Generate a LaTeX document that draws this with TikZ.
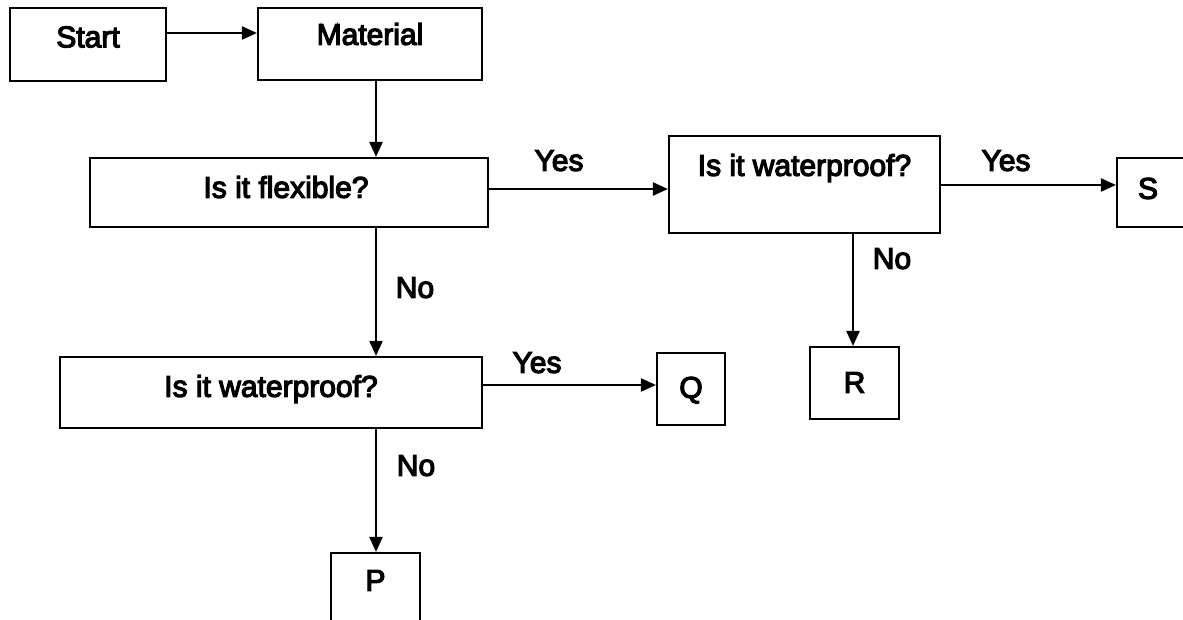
\documentclass[tikz,border=0pt]{standalone}
\usepackage{fontspec}
\setmainfont{Liberation Sans}[FakeBold=4]
\usetikzlibrary{arrows.meta,calc,fit}
\begin{document}
\begin{tikzpicture}[x=1pt,y=-1pt,
  box/.style={draw=black,line width=2.1pt,inner sep=0pt},
  lbl/.style={font=\fontsize{30}{32}\selectfont,inner sep=0pt,text height=21.6pt,text depth=0pt},
  arr/.style={draw=black,line width=2.2pt,-{Triangle[length=15pt,width=13pt]}}]
\useasboundingbox (0,0) rectangle (1183,620);
\fill[white] (0,0) rectangle (1183,620);
\begin{scope}
\clip (0,0) rectangle (1183,620);
% boxes
\node[box,fit={(10,8)(166,81)},label={[lbl,yshift=8pt]center:Start}] (start) {};
\node[box,fit={(258,8)(482,80)},label={[lbl,yshift=10pt]center:Material}] (material) {};
\node[box,fit={(90,158)(488,227)},label={[lbl,xshift=-3pt,yshift=5.5pt]center:Is it flexible?}] (flex) {};
\node[box,fit={(669,136)(940,233)},label={[lbl,yshift=19.5pt]center:Is it waterproof?}] (wpa) {};
\node[box,fit={(1117,158)(1200,227)},label={[lbl,xshift=-10.5pt,yshift=4.5pt]center:S}] (S) {};
\node[box,fit={(60,357)(482,428)},label={[lbl,yshift=6.5pt]center:Is it waterproof?}] (wpb) {};
\node[box,fit={(657,353)(725,425)},label={[lbl,yshift=2pt]center:Q}] (Q) {};
\node[box,fit={(810,347)(899,419)},label={[lbl,yshift=1pt]center:R}] (R) {};
\node[box,fit={(331,553)(420,640)},label={[lbl,yshift=16.5pt]center:P}] (P) {};
% guide coordinates
\coordinate (ya) at (0,33);
\coordinate (yb) at (0,189);
\coordinate (yc) at (0,185);
\coordinate (yd) at (0,385);
\coordinate (xa) at (376,0);
\coordinate (xb) at (853,0);
% connectors
\draw[arr] (start.east |- ya) -- (material.west |- ya);
\draw[arr] (material.south -| xa) -- (flex.north -| xa);
\draw[arr] (flex.east |- yb) -- (wpa.west |- yb);
\draw[arr] (wpa.east |- yc) -- (S.west |- yc);
\draw[arr] (wpa.south -| xb) -- (R.north -| xb);
\draw[arr] (flex.south -| xa) -- (wpb.north -| xa);
\draw[arr] (wpb.east |- yd) -- (Q.west |- yd);
\draw[arr] (wpb.south -| xa) -- (P.north -| xa);
% connector labels
\node[lbl] (yes1) at (559,160) {Yes};
\node[lbl] (yes2) at (1006,160) {Yes};
\node[lbl] (no1) at (892,258) {No};
\node[lbl] (no2) at (415,287) {No};
\node[lbl] (yes3) at (537,362) {Yes};
\node[lbl] (no3) at (416,465) {No};
\end{scope}
\end{tikzpicture}
\end{document}
